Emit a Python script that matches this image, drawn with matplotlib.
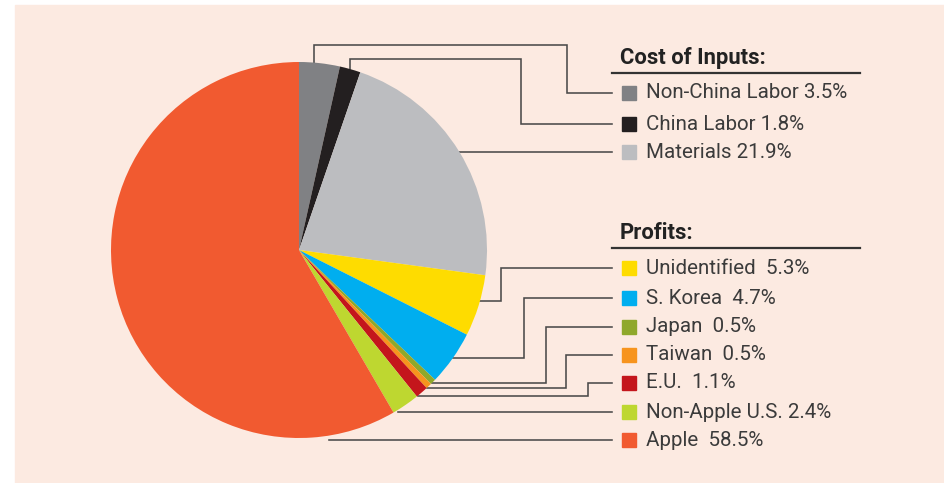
import numpy as np
import matplotlib.pyplot as plt
from matplotlib.patches import Rectangle

# datos del grafico
cost_labels = ['Non-China Labor', 'China Labor', 'Materials']
cost_values = [3.5, 1.8, 21.9]
cost_colors = ['#808184', '#231f20', '#bcbdc0']

profit_labels = ['Unidentified', 'S. Korea', 'Japan', 'Taiwan', 'E.U.', 'Non-Apple U.S.', 'Apple']
profit_values = [5.3, 4.7, 0.5, 0.5, 1.1, 2.4, 58.5]
profit_colors = ['#fedc00', '#00aeef', '#8fa82b', '#f7941d', '#c4161c', '#bed730', '#f15a30']
profit_seps = ['  ', '  ', '  ', '  ', '  ', ' ', '  ']

W, H = 944, 483
BG = '#fceae1'
LINE = '#4a4a4a'
TEXT = '#3b3b3b'
FONT = ['Roboto', 'DejaVu Sans']


def Y(y):
    # pixel y (hacia abajo) -> coordenada del eje
    return H - y


fig = plt.figure(figsize=(W / 100, H / 100), dpi=100, facecolor='white')
ax = fig.add_axes([0, 0, 1, 1])

cx, cy, r = 299, 250, 188
values = cost_values + profit_values
colors = cost_colors + profit_colors
wedges, _ = ax.pie(values, colors=colors, startangle=90, counterclock=False,
                   center=(cx, Y(cy)), radius=r, wedgeprops=dict(linewidth=0))
for w in wedges:
    w.set_zorder(3)

ax.set_xlim(0, W)
ax.set_ylim(0, H)
ax.set_aspect('equal')
ax.axis('off')
ax.add_patch(Rectangle((15, 0), W - 15, H - 5, color=BG, zorder=0))

# filas de la leyenda (pixeles)
cost_rows = [93, 124, 152]
profit_rows = [268, 298, 327, 355, 383, 412, 440]
rows = cost_rows + profit_rows

# (fraccion dentro de la cuna, tipo de guia, codo x, y superior)
guides = [
    (0.63, 'top', 567, 45),
    (0.5, 'top', 521, 59),
    (0.5, 'flat', None, None),
    (0.58, 'elbow', 501, None),
    (0.5, 'elbow', 524, None),
    (0.2, 'elbow', 546, None),
    (0.1, 'elbow', 566, None),
    (0.1, 'elbow', 588, None),
    (0.2, 'flat', None, None),
    (0.9, 'flat', None, None),
]
x_end = 612

for w, yl, (f, kind, ex, ytop) in zip(wedges, rows, guides):
    ang = np.deg2rad(w.theta1 + f * (w.theta2 - w.theta1))
    x0 = cx + r * np.cos(ang)
    y0 = cy - r * np.sin(ang)
    if kind == 'top':
        xs = [x0, x0, ex, ex, x_end]
        ys = [y0, ytop, ytop, yl, yl]
    elif kind == 'elbow':
        xs = [x0, ex, ex, x_end]
        ys = [y0, y0, yl, yl]
    else:
        xs = [x0, x_end]
        ys = [yl, yl]
    ax.plot(xs, [Y(v) for v in ys], color=LINE, lw=1.15, zorder=2,
            solid_joinstyle='miter')

# titulos y lineas
for title, ty, uy in [('Cost of Inputs:', 58, 73), ('Profits:', 233, 248)]:
    ax.text(620, Y(ty), title, fontsize=15.8, fontweight='bold', color='#222222',
            va='center', ha='left', family=FONT)
    ax.plot([612, 860], [Y(uy), Y(uy)], color='#333333', lw=1.6, zorder=2)

labels = [f'{l} {v}%' for l, v in zip(cost_labels, cost_values)]
labels += [f'{l}{s}{v}%' for l, s, v in zip(profit_labels, profit_seps, profit_values)]

for lab, col, yl in zip(labels, colors, rows):
    ax.add_patch(Rectangle((622, Y(yl) - 7), 14, 14, color=col, zorder=3))
    ax.text(646, Y(yl), lab, fontsize=14.8, color=TEXT, va='center', ha='left', family=FONT)

plt.savefig('out.png', dpi=100, facecolor='white')
